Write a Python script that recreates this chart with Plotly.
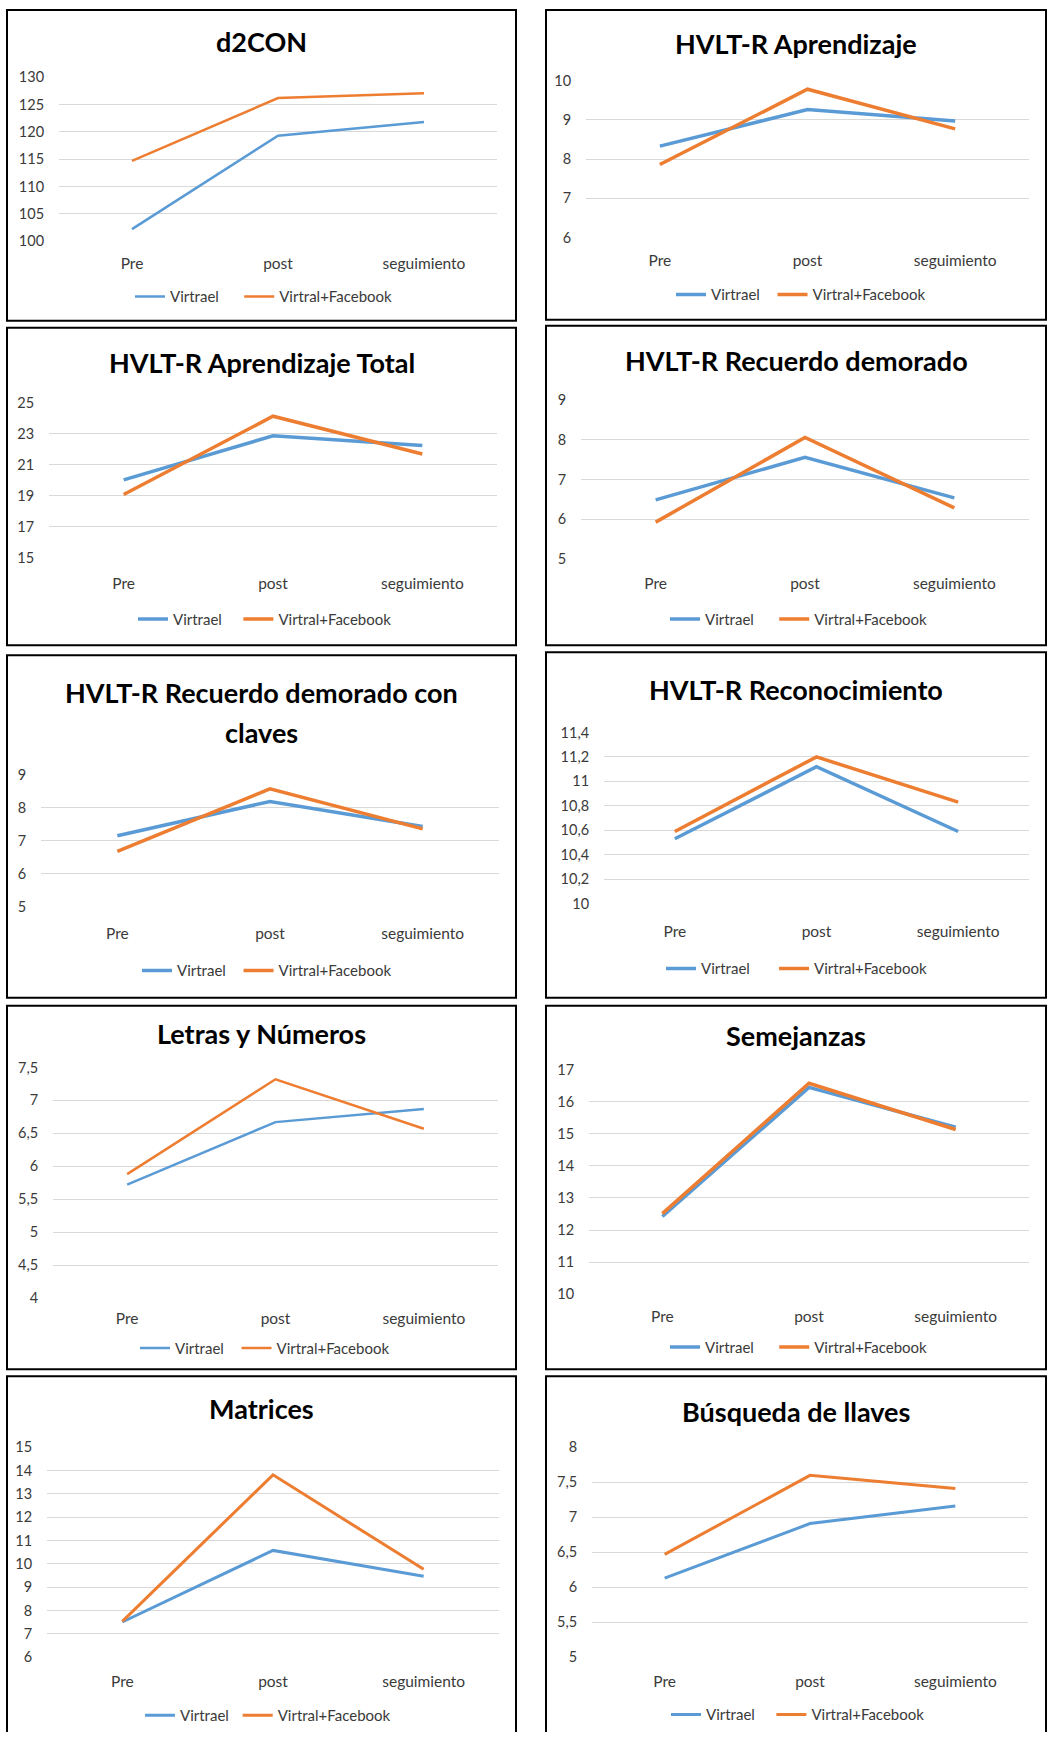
import plotly.graph_objects as go

W = 1048
H = 1732               # figure height; the page adds body spacing around it
PAGE_TOP = 8           # top body margin of the page
FIT = 1740 / (H + 24)  # page is fitted back to the 1740px window height

categories = ["Pre", "post", "seguimiento"]
series_names = ["Virtrael", "Virtral+Facebook"]

titles = [
    "d2CON",
    "HVLT-R Aprendizaje",
    "HVLT-R Aprendizaje Total",
    "HVLT-R Recuerdo demorado",
    "HVLT-R Recuerdo demorado con|claves",
    "HVLT-R Reconocimiento",
    "Letras y Números",
    "Semejanzas",
    "Matrices",
    "Búsqueda de llaves",
]

virtrael = [
    [102.2, 119.3, 121.8],
    [8.33, 9.26, 8.97],
    [20.02, 22.86, 22.24],
    [6.49, 7.56, 6.54],
    [7.15, 8.19, 7.43],
    [10.53, 11.12, 10.59],
    [5.72, 6.67, 6.87],
    [12.42, 16.44, 15.20],
    [7.51, 10.58, 9.47],
    [6.13, 6.91, 7.16],
]

virtral_facebook = [
    [114.7, 126.2, 127.1],
    [7.86, 9.78, 8.77],
    [19.08, 24.12, 21.69],
    [5.93, 8.06, 6.29],
    [6.68, 8.57, 7.36],
    [10.59, 11.20, 10.83],
    [5.88, 7.32, 6.57],
    [12.51, 16.57, 15.13],
    [7.54, 13.82, 9.77],
    [6.47, 7.60, 7.41],
]

y_min = [100, 6, 15, 5, 5, 10, 4, 10, 6, 5]
y_max = [130, 10, 25, 9, 9, 11.4, 7.5, 17, 15, 8]
y_step = [5, 1, 2, 1, 1, 0.2, 0.5, 1, 1, 0.5]

# layout of each chart card (page pixels): frame, plot area, title / label / legend rows
frames = [
    (7, 9, 516, 320), (546, 9, 1046, 319),
    (7, 327, 516, 645), (546, 325, 1046, 645),
    (7, 655, 516, 998), (546, 652, 1046, 998),
    (7, 1006, 516, 1370), (546, 1006, 1046, 1370),
    (7, 1377, 516, 1775), (546, 1377, 1046, 1775),
]
plot_x = [(59, 497), (586, 1029), (49, 497), (581, 1029), (41, 499),
          (604, 1029), (53, 498), (589, 1029), (47, 499), (592, 1028)]
plot_y = [(76, 240.7), (79.3, 237), (401.7, 557.7), (399.3, 559), (774.3, 907.3),
          (732, 904), (1067.3, 1299), (1069.3, 1295.3), (1447.7, 1658.7), (1447.7, 1658.7)]
title_y = [40, 42, 362, 360, 692, 689, 1034, 1036, 1409, 1412]
xlab_y = [262, 259, 582, 582, 932, 930, 1318, 1316, 1681, 1681]
legend_y = [296, 294, 619, 619, 971, 969, 1349, 1348, 1717, 1716]
legend_x = [135, 676, 138, 670, 142, 666, 140, 670, 145, 671]
legend_gap = [4, 2, 3, 4, 2, 5, 2, 4, 1, 3]   # spacer width after the first entry
line_w = [2.5, 3.5, 3.5, 3.5, 3.5, 3.5, 2.5, 3.5, 3, 3]

BLUE = "#5B9BD5"
ORANGE = "#ED7D31"
FONT = "Lato, 'Open Sans', sans-serif"
TXT = "#3A3A3A"


def px(x):
    return x / W


def py(y):
    return 1 - (y / FIT - PAGE_TOP) / H


fig = go.Figure()
layout = dict(
    width=W, height=H,
    margin=dict(l=0, r=0, t=0, b=0),
    paper_bgcolor="white", plot_bgcolor="white",
    separators=",.",
    font=dict(family=FONT, color=TXT),
    shapes=[], annotations=[],
)

for i in range(10):
    k = "" if i == 0 else str(i + 1)
    leg = "legend" + k
    entries = (
        (series_names[0] + "\u00a0" * legend_gap[i], virtrael[i], BLUE),
        (series_names[1], virtral_facebook[i], ORANGE),
    )
    for name, vals, col in entries:
        fig.add_trace(go.Scatter(
            x=categories, y=vals, name=name, mode="lines",
            line=dict(color=col, width=line_w[i]),
            xaxis="x" + k, yaxis="y" + k, legend=leg, hoverinfo="skip",
        ))

    x0, x1 = plot_x[i]
    ytop, ybot = plot_y[i]
    span = y_max[i] - y_min[i]
    eps = span * 0.002
    layout["xaxis" + k] = dict(
        domain=[px(x0), px(x1)], anchor="y" + k,
        type="category", range=[-0.5, 2.5],
        showgrid=False, zeroline=False, showline=False,
        ticks="outside", ticklen=xlab_y[i] - ybot - 13, tickcolor="rgba(0,0,0,0)",
        tickfont=dict(size=15.5, color=TXT, family=FONT),
        fixedrange=True,
    )
    layout["yaxis" + k] = dict(
        domain=[py(ybot), py(ytop)], anchor="x" + k,
        range=[y_min[i] - eps, y_max[i] + eps],
        tick0=y_min[i], dtick=y_step[i],
        showgrid=True, gridcolor="#D9D9D9", gridwidth=1,
        zeroline=False, showline=False,
        ticks="outside", ticklen=11, tickcolor="rgba(0,0,0,0)",
        tickfont=dict(size=14.5, color=TXT, family=FONT),
        fixedrange=True,
    )

    fx0, fy0, fx1, fy1 = frames[i]
    cx = (fx0 + fx1) / 2
    layout[leg] = dict(
        orientation="h", x=px(legend_x[i] - 5), y=py(legend_y[i]),
        xanchor="left", yanchor="middle",
        bgcolor="rgba(0,0,0,0)", borderwidth=0,
        font=dict(size=15, color=TXT, family=FONT),
        itemclick=False, itemdoubleclick=False,
    )

    layout["shapes"].append(dict(
        type="rect", xref="paper", yref="paper",
        x0=px(fx0), x1=px(fx1), y0=py(fy1), y1=py(fy0),
        line=dict(color="black", width=2), fillcolor="rgba(0,0,0,0)", layer="below",
    ))

    lines = titles[i].split("|")
    for j, t in enumerate(lines):
        layout["annotations"].append(dict(
            text="<b>" + t + "</b>", xref="paper", yref="paper",
            x=px(cx), y=py(title_y[i] + 40 * j),
            xanchor="center", yanchor="middle", showarrow=False,
            font=dict(size=27, color="black", family=FONT),
        ))

fig.update_layout(**layout)
fig.write_html("out.html")
